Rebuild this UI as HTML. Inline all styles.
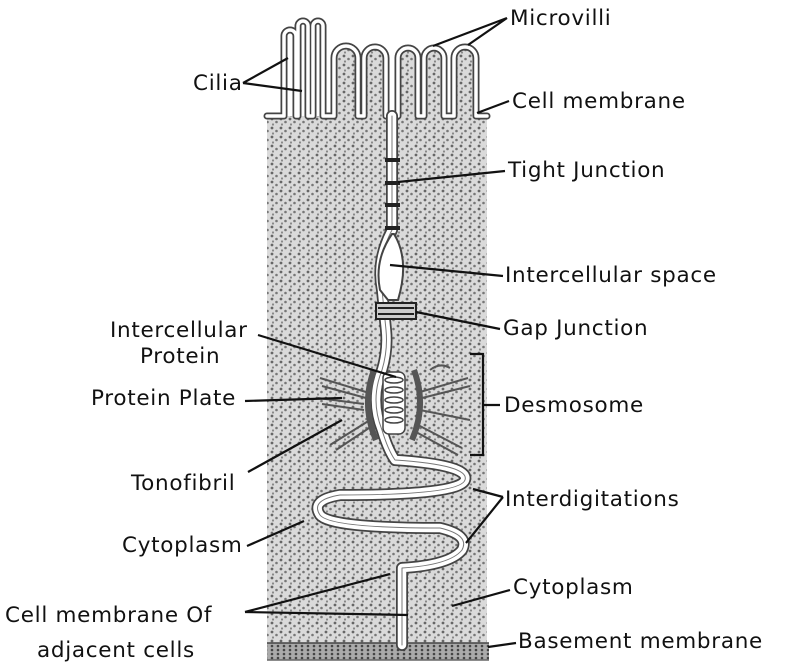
<!DOCTYPE html>
<html><head><meta charset="utf-8"><style>
html,body{margin:0;padding:0;background:#fff;}
svg{display:block}
text{font-family:"DejaVu Sans","Liberation Sans",sans-serif;font-size:21.5px;letter-spacing:0.7px;fill:#111}
</style></head><body>
<svg width="785" height="672" viewBox="0 0 785 672" xmlns="http://www.w3.org/2000/svg">
<defs>
<pattern id="st" width="9" height="9" patternUnits="userSpaceOnUse">
<rect width="9" height="9" fill="#dadada"/>
<circle cx="2" cy="2" r="1.4" fill="#666"/>
<circle cx="6.5" cy="5" r="1.3" fill="#777"/>
<circle cx="3" cy="7.5" r="1.1" fill="#888"/>
</pattern>
<pattern id="bm" width="6" height="4" patternUnits="userSpaceOnUse">
<rect width="6" height="4" fill="#aaa"/>
<circle cx="2" cy="2" r="1.3" fill="#444"/>
</pattern>
<path id="top" d="M267 116 L284 116 L284 36 A6 6 0 0 1 296 36 L296 116 L298 116 L298 26 A5 5 0 0 1 308 26 L308 116 L313 116 L313 26 A5 5 0 0 1 323 26 L323 116 L334 116 L334 58 A12 12 0 0 1 358 58 L358 116 L364 116 L364 58 A11 11 0 0 1 386 58 L386 116 M398 116 L398 58 A10 10 0 0 1 418 58 L418 116 L424 116 L424 58 A10 10 0 0 1 444 58 L444 116 L454 116 L454 58 A11 11 0 0 1 476 58 L476 116 L487 116"/>
<path id="cb" d="M392 116 L392 230 Q376 260 382 290 L386 330 Q388 350 382 370 Q370 400 382 430 Q388 450 395 460 Q470 465 465 480 Q460 495 340 495 Q310 500 320 515 Q330 528 440 528 Q470 535 462 550 Q450 565 402 568 L402 645"/>
</defs>
<rect x="267" y="116" width="220" height="530" fill="url(#st)"/>
<rect x="267" y="643" width="222" height="17" fill="url(#bm)"/>
<line x1="267" y1="643" x2="489" y2="643" stroke="#444" stroke-width="1.5"/>
<line x1="267" y1="660" x2="489" y2="660" stroke="#666" stroke-width="1.5"/>
<g fill="url(#st)">
<path d="M334 118 L334 58 A12 12 0 0 1 358 58 L358 118Z"/>
<path d="M364 118 L364 58 A11 11 0 0 1 386 58 L386 118Z"/>
<path d="M398 118 L398 58 A10 10 0 0 1 418 58 L418 118Z"/>
<path d="M424 118 L424 58 A10 10 0 0 1 444 58 L444 118Z"/>
<path d="M454 118 L454 58 A11 11 0 0 1 476 58 L476 118Z"/>
</g>
<g fill="none" stroke-linejoin="round" stroke-linecap="round">
<use href="#top" stroke="#444" stroke-width="7"/>
<use href="#top" stroke="#fff" stroke-width="3.5"/>
<use href="#cb" stroke="#444" stroke-width="12"/>
<use href="#cb" stroke="#fff" stroke-width="8.5"/>
<use href="#cb" stroke="#777" stroke-width="1"/>
</g>
<g fill="#222">
<rect x="385" y="158" width="15" height="4"/>
<rect x="385" y="181" width="15" height="4"/>
<rect x="385" y="203" width="15" height="4"/>
<rect x="385" y="226" width="15" height="4"/>
</g>
<path d="M392 234 Q374 260 380 290 L388 300 L398 300 Q410 260 394 234 Z" fill="#fff" stroke="#444" stroke-width="2"/>
<rect x="376" y="303" width="40" height="16" fill="#ccc" stroke="#222" stroke-width="2"/>
<line x1="378" y1="308" x2="414" y2="308" stroke="#222" stroke-width="2"/>
<line x1="378" y1="314" x2="414" y2="314" stroke="#222" stroke-width="2"/>
<path d="M374 370 Q361 405 376 440" fill="none" stroke="#555" stroke-width="6"/>
<path d="M414 370 Q427 405 412 440" fill="none" stroke="#555" stroke-width="6"/>
<rect x="383" y="372" width="22" height="62" fill="#fff" stroke="#444" stroke-width="1.5" rx="6"/>
<g fill="none" stroke="#444" stroke-width="1.5">
<ellipse cx="394" cy="380" rx="9" ry="3"/><ellipse cx="394" cy="390" rx="9" ry="3"/>
<ellipse cx="394" cy="400" rx="9" ry="3"/><ellipse cx="394" cy="410" rx="9" ry="3"/>
<ellipse cx="394" cy="420" rx="9" ry="3"/>
</g>
<g fill="none" stroke="#555" stroke-width="2">
<path d="M320 378 L366 392 M322 386 L366 398 M318 398 L364 404 M322 404 L364 410"/>
<path d="M330 445 L370 420 M336 450 L372 426"/>
<path d="M430 370 Q440 362 450 368 M420 392 L468 378 M422 398 L470 386 M420 410 L470 420"/>
<path d="M418 425 L462 448 M416 432 L458 455"/>
</g>
<g stroke="#111" stroke-width="2.2" fill="none">
<path d="M507 18 L433 46 M507 18 L468 45"/>
<path d="M243 83 L288 58 M243 83 L302 91"/>
<path d="M509 101 L477 113"/>
<path d="M505 171 L398 182"/>
<path d="M503 276 L390 265"/>
<path d="M500 329 L416 312"/>
<path d="M258 335 L396 377"/>
<path d="M245 401 L342 398"/>
<path d="M248 472 L342 420"/>
<path d="M470 354 L483 354 L483 455 L470 455 M483 405 L500 405"/>
<path d="M503 497 L473 489 M503 497 L466 543"/>
<path d="M247 546 L304 521"/>
<path d="M510 590 L452 606"/>
<path d="M245 612 L390 574 M245 612 L408 615"/>
<path d="M516 643 L488 647"/>
</g>
<text x="510" y="25">Microvilli</text>
<text x="193" y="90">Cilia</text>
<text x="512" y="108">Cell membrane</text>
<text x="508" y="177">Tight Junction</text>
<text x="505" y="282">Intercellular space</text>
<text x="503" y="335">Gap Junction</text>
<text x="110" y="337">Intercellular</text>
<text x="140" y="363">Protein</text>
<text x="91" y="405">Protein Plate</text>
<text x="504" y="412">Desmosome</text>
<text x="131" y="490">Tonofibril</text>
<text x="505" y="506">Interdigitations</text>
<text x="122" y="552">Cytoplasm</text>
<text x="513" y="594">Cytoplasm</text>
<text x="5" y="622">Cell membrane Of</text>
<text x="37" y="657">adjacent cells</text>
<text x="518" y="648">Basement membrane</text>
</svg>
</body></html>
